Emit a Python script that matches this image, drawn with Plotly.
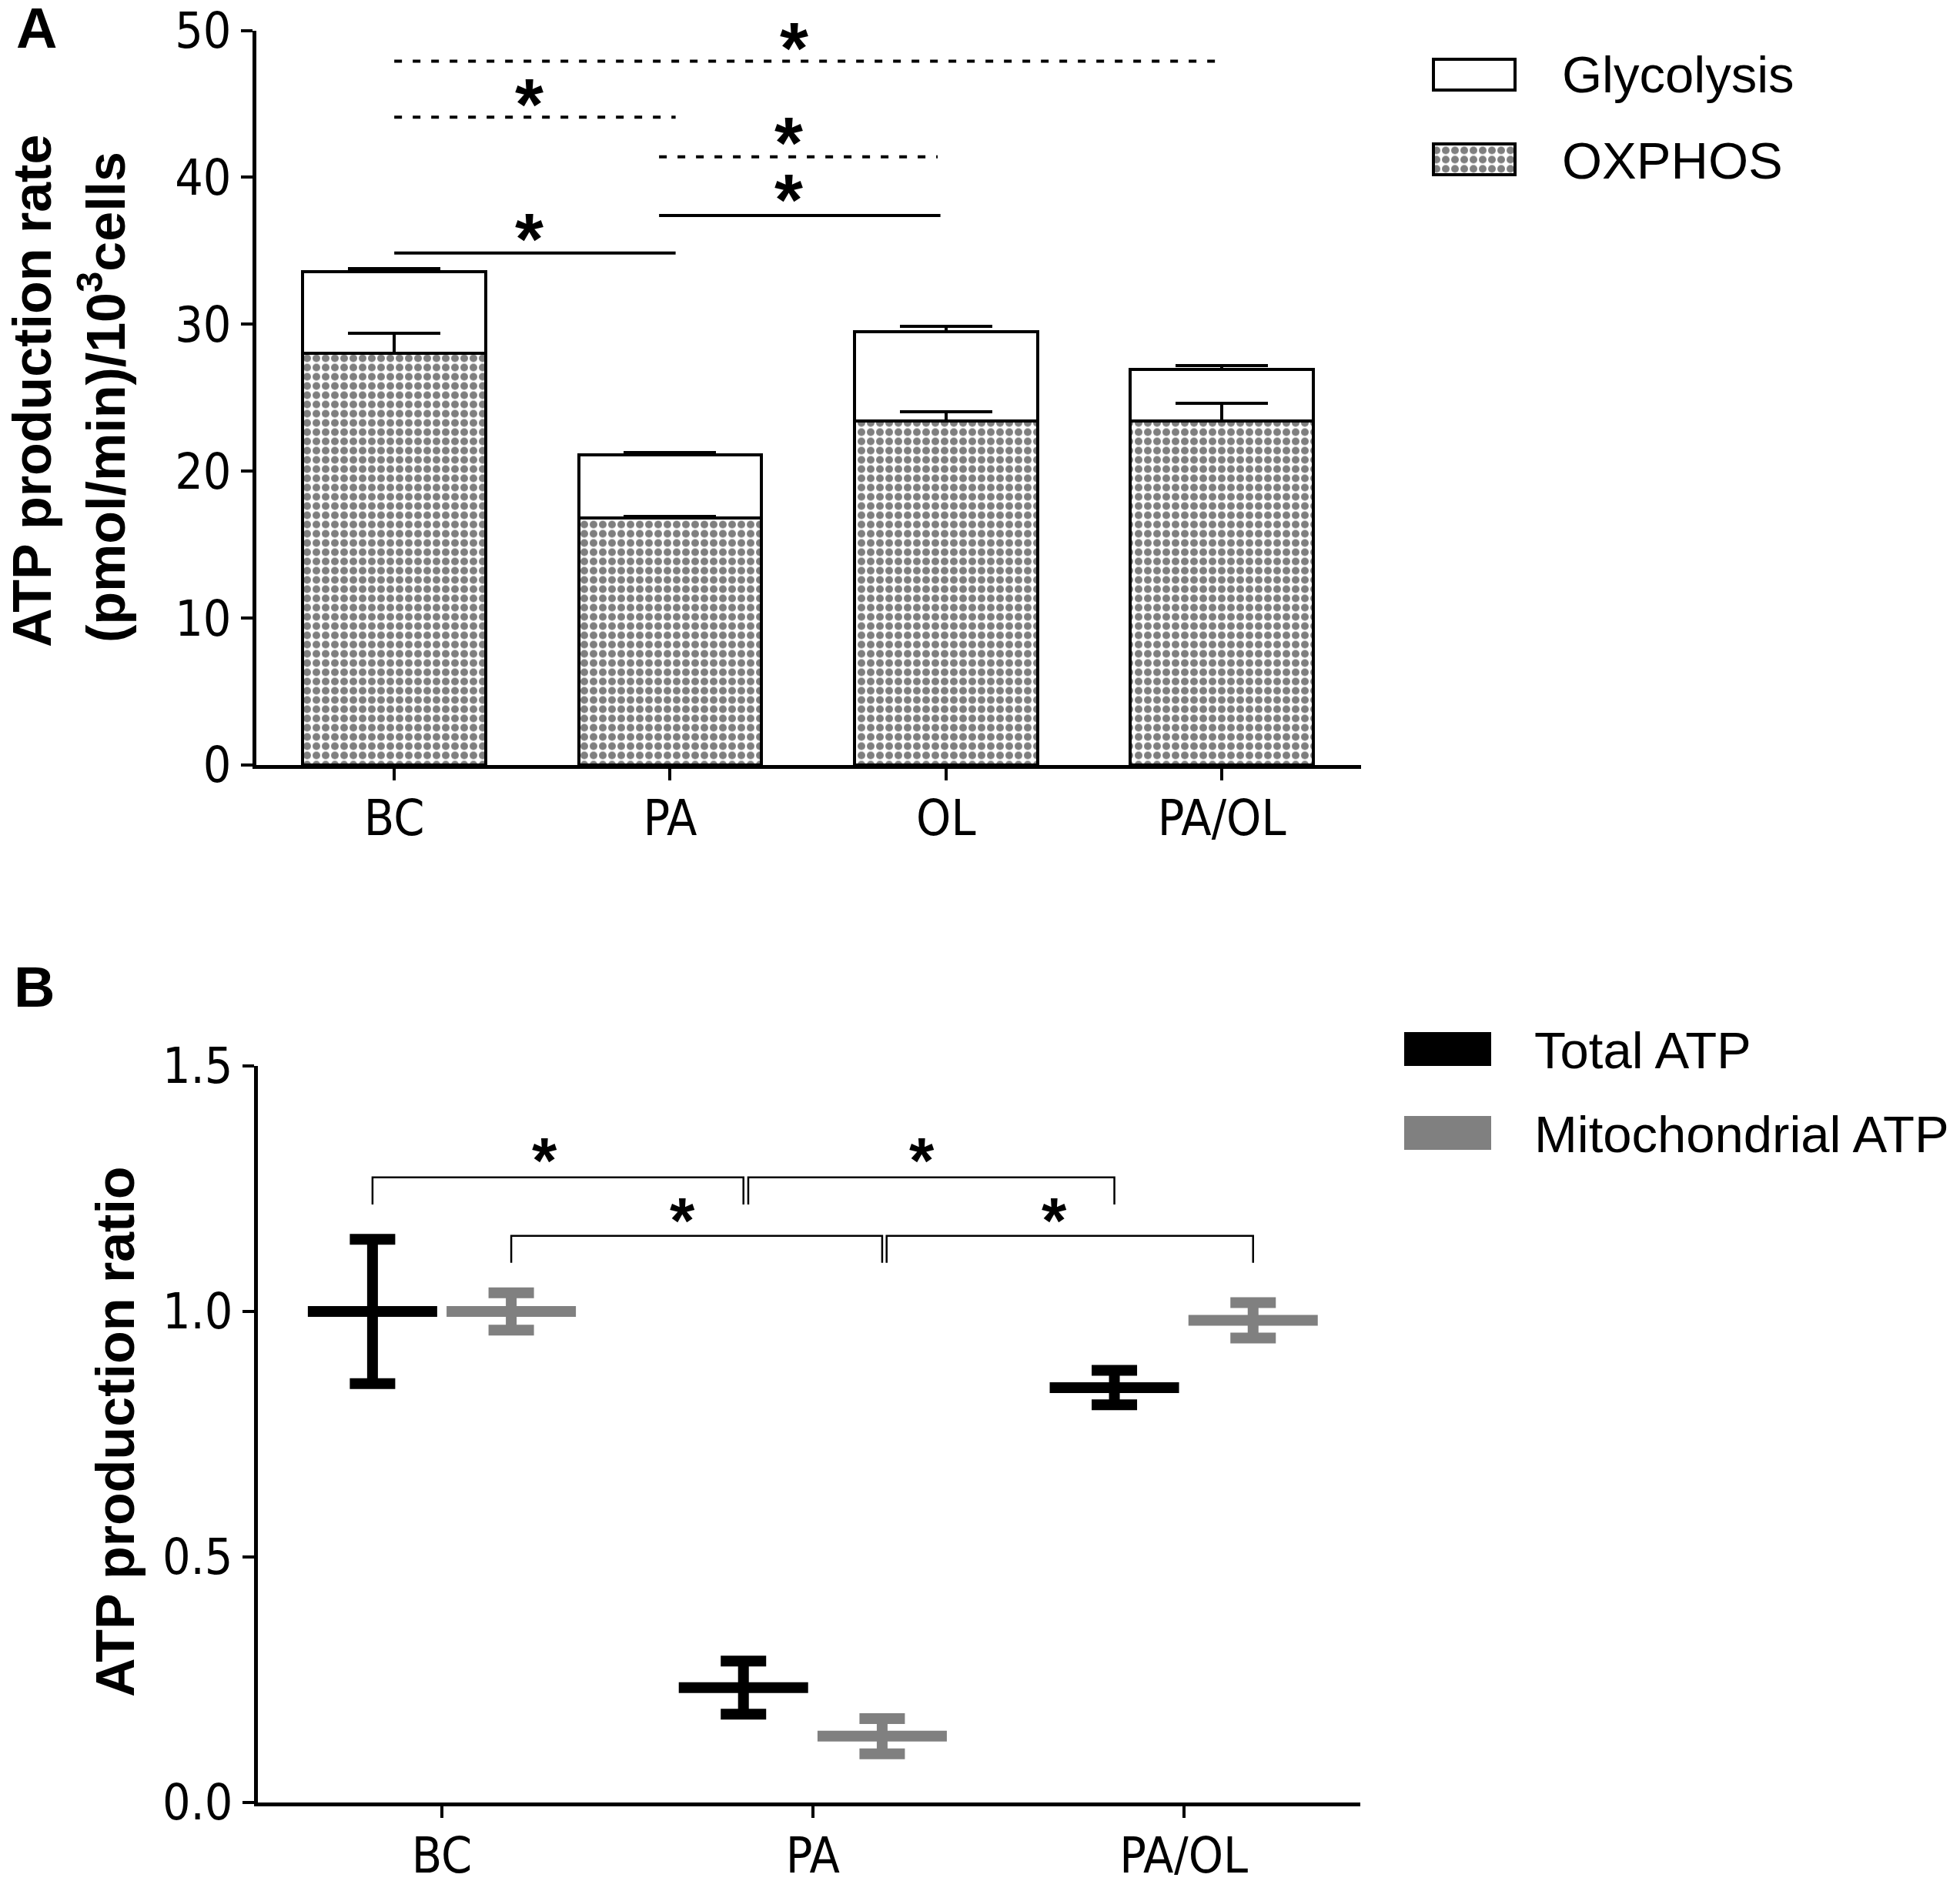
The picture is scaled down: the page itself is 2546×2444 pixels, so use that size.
import plotly.graph_objects as go

# page body has an 8px margin, so the figure is drawn 8px in and 16px smaller
PAD = 8
W, H = 2546 - 2 * PAD, 2444 - 2 * PAD

# panel A: ATP production rate, stacked
cats_a = ["BC", "PA", "OL", "PA/OL"]
oxphos = [28.0, 16.8, 23.4, 23.4]
oxphos_err = [1.4, 0.1, 0.65, 1.2]
glyco = [5.6, 4.3, 6.1, 3.5]
glyco_err = [0.2, 0.15, 0.35, 0.3]

# significance lines A: (x0, x1, y, dashed), stars (x, y)
sig_a = [(0, 3.0, 47.9, True), (0, 1.02, 44.1, True), (0.96, 1.97, 41.4, True),
         (0.96, 1.98, 37.4, False), (0, 1.02, 34.85, False)]
stars_a = [(1.45, 49.5), (0.49, 45.7), (1.43, 43.1), (1.43, 39.2), (0.49, 36.55)]

# panel B: ATP production ratio
cats_b = ["BC", "PA", "PA/OL"]
total_atp = [1.0, 0.234, 0.845]
total_err = [0.147, 0.054, 0.035]
mito_atp = [1.0, 0.135, 0.982]
mito_err = [0.038, 0.036, 0.036]
off = 0.187

# brackets B: (x0, x1, y)
sig_b = [(0 - off, 1 - off, 1.273), (1 - off + 0.013, 2 - off, 1.273),
         (0 + off, 1 + off, 1.154), (1 + off + 0.012, 2 + off, 1.154)]
stars_b = [(0.278, 1.324), (1.295, 1.324), (0.648, 1.202), (1.652, 1.202)]
drop_b = 0.055

TICKFONT = dict(family="DejaVu Sans Condensed, Liberation Sans Narrow, sans-serif", size=64, color="black")
BOLD = "Liberation Sans, Arial, sans-serif"
STAR_A, STAR_B = 95, 83
STAR_LIFT = 0.14


def px(x):
    return (x - PAD) / W


def py(y):
    return 1 - (y - PAD) / H


pattern = dict(shape=".", size=12, solidity=0.55, fgcolor="black", bgcolor="white")

fig = go.Figure()
xa = list(range(len(cats_a)))
fig.add_trace(go.Bar(
    x=xa, y=oxphos, width=0.664, name="OXPHOS",
    marker=dict(color="white", pattern=pattern, line=dict(color="black", width=4)),
    error_y=dict(type="data", symmetric=False, array=oxphos_err, arrayminus=[0] * 4,
                 thickness=4, width=60, color="black"),
    xaxis="x", yaxis="y", showlegend=False))
fig.add_trace(go.Bar(
    x=xa, y=glyco, width=0.664, name="Glycolysis",
    marker=dict(color="rgba(0,0,0,0)", line=dict(color="black", width=4)),
    error_y=dict(type="data", symmetric=False, array=glyco_err, arrayminus=[0] * 4,
                 thickness=4, width=60, color="black"),
    xaxis="x", yaxis="y", showlegend=False))

# legend swatches for A (hidden axis)
fig.add_trace(go.Bar(
    y=[0], x=[1], orientation="h", width=0.362,
    marker=dict(color="white", pattern=pattern, line=dict(color="black", width=4)),
    xaxis="x3", yaxis="y3", showlegend=False))
fig.add_trace(go.Bar(
    y=[1], x=[1], orientation="h", width=0.362,
    marker=dict(color="white", line=dict(color="black", width=4)),
    xaxis="x3", yaxis="y3", showlegend=False))

xb = list(range(len(cats_b)))
for vals, errs, col, sgn in [(total_atp, total_err, "black", -1), (mito_atp, mito_err, "#808080", 1)]:
    fig.add_trace(go.Scatter(
        x=[i + sgn * off for i in xb], y=vals, mode="markers",
        marker=dict(symbol="line-ew", size=120, line=dict(width=14, color=col)),
        error_y=dict(type="data", array=errs, thickness=14, width=29.5, color=col),
        xaxis="x2", yaxis="y2", showlegend=False))

shapes = []
for x0, x1, y, dashed in sig_a:
    shapes.append(dict(type="line", xref="x", yref="y", x0=x0, x1=x1, y0=y, y1=y,
                       line=dict(color="black", width=4, dash="10px,14px" if dashed else "solid")))
for x0, x1, y in sig_b:
    shapes.append(dict(type="path", xref="x2", yref="y2",
                       path=f"M {x0},{y - drop_b} L {x0},{y} L {x1},{y} L {x1},{y - drop_b}",
                       line=dict(color="black", width=2.5)))
# legend swatches for B
for y0, y1, col in [(1341, 1385, "black"), (1450, 1494, "#808080")]:
    shapes.append(dict(type="rect", xref="paper", yref="paper", x0=px(1824), x1=px(1937),
                       y0=py(y1), y1=py(y0), fillcolor=col, line=dict(width=0)))

# star glyph sits above the middle of its text box
ann = []
for x, y in stars_a:
    ann.append(dict(x=x, y=y - STAR_LIFT * STAR_A / 19.08, xref="x", yref="y", text="<b>*</b>",
                    showarrow=False, font=dict(family=BOLD, size=STAR_A, color="black"),
                    yanchor="middle"))
for x, y in stars_b:
    ann.append(dict(x=x, y=y - STAR_LIFT * STAR_B / 638, xref="x2", yref="y2", text="<b>*</b>",
                    showarrow=False, font=dict(family=BOLD, size=STAR_B, color="black"),
                    yanchor="middle"))


def label(x, y, text, size, bold=False, angle=0, xanchor="center"):
    ann.append(dict(x=px(x), y=py(y), xref="paper", yref="paper", showarrow=False,
                    text=f"<b>{text}</b>" if bold else text, textangle=angle,
                    xanchor=xanchor, yanchor="middle",
                    font=dict(family=BOLD, size=size, color="black")))


label(47, 37, "A", 74, bold=True)
label(44, 1282, "B", 74, bold=True)
label(42, 508, "ATP production rate", 70, bold=True, angle=-90)
label(133, 516, "(pmol/min)/10<sup>3</sup>cells", 70, bold=True, angle=-90)
label(150, 1860, "ATP production ratio", 70, bold=True, angle=-90)
label(2027, 97, "Glycolysis", 67, xanchor="left")
label(2027, 208, "OXPHOS", 67, xanchor="left")
label(1991, 1364, "Total ATP", 67, xanchor="left")
label(1991, 1473, "Mitochondrial ATP", 67, xanchor="left")

axis_common = dict(showgrid=False, zeroline=False, showline=True, linecolor="black",
                   linewidth=4.5, ticks="outside", ticklen=15, tickwidth=4,
                   tickcolor="black", tickfont=TICKFONT, automargin=False,
                   ticklabeloverflow="allow")

fig.update_layout(
    width=W, height=H, margin=dict(l=0, r=0, t=0, b=0, autoexpand=False),
    paper_bgcolor="white", plot_bgcolor="white", barmode="stack",
    xaxis=dict(domain=[px(333), px(1768)], range=[-0.5, 3.505], anchor="y",
               tickvals=xa, ticktext=cats_a, ticklabelstandoff=-6, **axis_common),
    yaxis=dict(domain=[py(994), py(39.5)], range=[0, 50], anchor="x",
               tickvals=[0, 10, 20, 30, 40, 50], **axis_common),
    xaxis2=dict(domain=[px(335), px(1767)], range=[-0.496, 2.476], anchor="y2",
                tickvals=xb, ticktext=cats_b, ticklabelstandoff=-6, **axis_common),
    yaxis2=dict(domain=[py(2342), py(1385)], range=[0, 1.5], anchor="x2",
                tickvals=[0, 0.5, 1.0, 1.5], tickformat=".1f", **axis_common),
    xaxis3=dict(domain=[px(1860), px(1970)], range=[-0.02, 1.02], anchor="y3",
                visible=False, automargin=False),
    yaxis3=dict(domain=[py(235.1), py(69.4)], range=[-0.25, 1.25], anchor="x3",
                visible=False, automargin=False),
    shapes=shapes, annotations=ann,
)

fig.write_html("out.html")
